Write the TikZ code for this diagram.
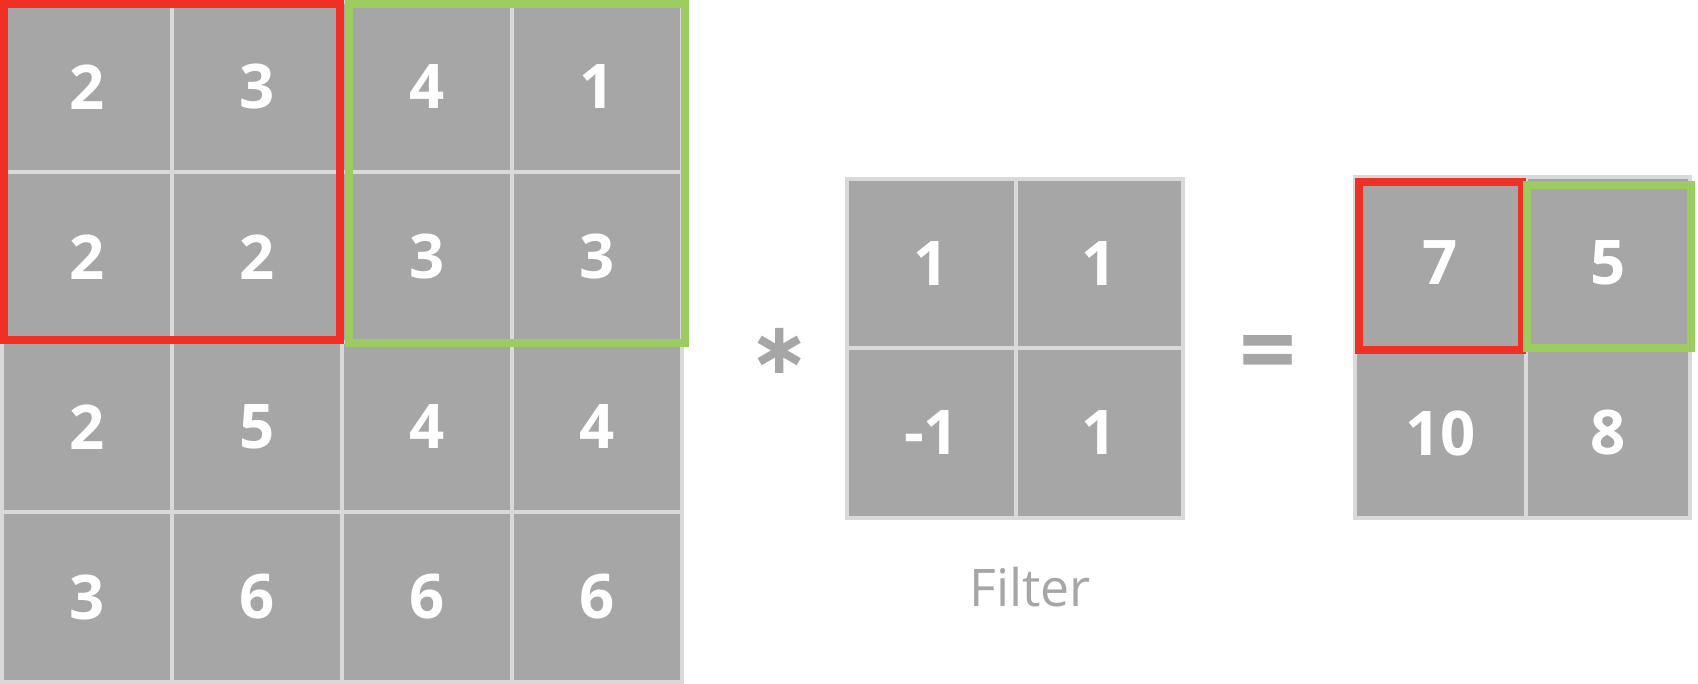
\documentclass[tikz,border=0pt]{standalone}
\usepackage{fontspec}
\setmainfont{Open Sans}
\newfontfamily\symfont{DejaVu Sans}
\definecolor{cellgray}{HTML}{A6A6A6}
\definecolor{gridline}{HTML}{D9D9D9}
\definecolor{framered}{HTML}{EE3124}
\definecolor{framegreen}{HTML}{9CCB5F}
\begin{document}
\begin{tikzpicture}[x=1pt,y=-1pt,
  cell/.style={rectangle, fill=cellgray, draw=gridline, line width=4pt, inner sep=0pt,
    minimum width=170pt, minimum height=170pt, text=white,
    font=\bfseries\fontsize{61.6}{62}\selectfont},
  redframe/.style={draw=framered, line width=8pt},
  greenframe/.style={draw=framegreen, line width=8pt},
  opsym/.style={text=cellgray, inner sep=0pt, anchor=base, font=\bfseries\fontsize{100}{100}\selectfont},
  starsym/.style={text=cellgray, inner sep=0pt, anchor=center, font=\symfont\bfseries\fontsize{72}{72}\selectfont},
  caption/.style={text=cellgray, inner sep=0pt, anchor=base, font=\fontsize{51.8}{52}\selectfont}]
\useasboundingbox[fill=white] (0,0) rectangle (1698,684);
% input matrix
\node[cell] (a11) at (87,87)   {2};
\node[cell] (a12) at (257,87)  {3};
\node[cell] (a13) at (427,87)  {4};
\node[cell] (a14) at (597,87)  {1};
\node[cell] (a21) at (87,257)  {2};
\node[cell] (a22) at (257,257) {2};
\node[cell] (a23) at (427,257) {3};
\node[cell] (a24) at (597,257) {3};
\node[cell] (a31) at (87,427)  {2};
\node[cell] (a32) at (257,427) {5};
\node[cell] (a33) at (427,427) {4};
\node[cell] (a34) at (597,427) {4};
\node[cell] (a41) at (87,597)  {3};
\node[cell] (a42) at (257,597) {6};
\node[cell] (a43) at (427,597) {6};
\node[cell] (a44) at (597,597) {6};
\draw[redframe] (4,4) rectangle (340,340);
\draw[greenframe] (349,4) rectangle (685,343);
% operator
\node[starsym] (star) at (780,351) {∗};
% filter
\node[cell, minimum width=169pt, minimum height=169pt] (f11) at (931.5,263.5) {1};
\node[cell, minimum width=167pt, minimum height=169pt] (f12) at (1099.5,263.5) {1};
\node[cell, minimum width=169pt, minimum height=170pt] (f21) at (931.5,433) {-1};
\node[cell, minimum width=167pt, minimum height=170pt] (f22) at (1099.5,433) {1};
\node[caption] (cap) at (1030,606) {Filter};
% equals
\node[opsym] (eq) at (1268,386) {=};
% output
\node[cell, minimum width=171pt, minimum height=171pt] (o11) at (1440.5,262.5) {7};
\node[cell, minimum width=164pt, minimum height=171pt] (o12) at (1608,262.5) {5};
\node[cell, minimum width=171pt, minimum height=170pt] (o21) at (1440.5,433) {10};
\node[cell, minimum width=164pt, minimum height=170pt] (o22) at (1608,433) {8};
\draw[redframe] (1359,182.5) rectangle (1522,350);
\draw[greenframe] (1527,185) rectangle (1691,348.5);
\end{tikzpicture}
\end{document}
